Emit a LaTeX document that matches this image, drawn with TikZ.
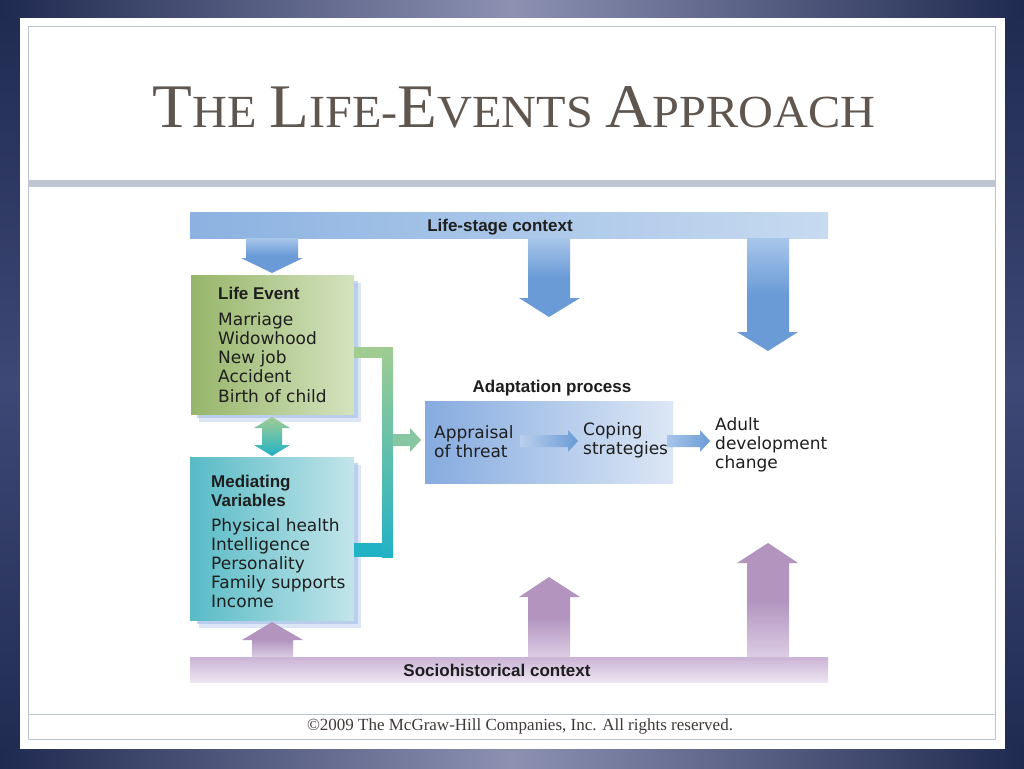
\documentclass[tikz,border=0pt]{standalone}
\usepackage{fontspec}
\usepackage{graphicx}
\setmainfont{Liberation Serif}
\newfontfamily\diagfont{DejaVu Sans}
\newfontfamily\labfont{Liberation Sans}
\definecolor{bgdark}{HTML}{1F2A50}
\definecolor{bglight}{HTML}{8C91B2}
\definecolor{bgmid}{HTML}{3E4876}
\definecolor{framec}{HTML}{B9C6CE}
\definecolor{bandc}{HTML}{BFC4D1}
\definecolor{titlec}{HTML}{5F5650}
\definecolor{footc}{HTML}{3F3A38}
\definecolor{barblueL}{HTML}{8CB2E1}
\definecolor{barblueR}{HTML}{C7DAF0}
\definecolor{arrblue}{HTML}{6A9BD6}
\definecolor{arrblueL}{HTML}{A8C6EA}
\definecolor{greenL}{HTML}{97B56A}
\definecolor{greenR}{HTML}{D4E3BF}
\definecolor{tealL}{HTML}{58BBC6}
\definecolor{tealR}{HTML}{C3E5EA}
\definecolor{shadowc}{HTML}{9DB9E6}
\definecolor{conngreen}{HTML}{A0CC92}
\definecolor{connteal}{HTML}{22B2C6}
\definecolor{arrgreen}{HTML}{86C6A2}
\definecolor{adaptL}{HTML}{86ABDF}
\definecolor{adaptR}{HTML}{DCE7F5}
\definecolor{purT}{HTML}{CBB3D5}
\definecolor{purB}{HTML}{EDE5F2}
\definecolor{arrpur}{HTML}{B294BE}
\definecolor{arrpurL}{HTML}{DCCDE4}
\definecolor{textc}{HTML}{1E1E1E}
\newcommand\tbig[1]{{\fontsize{62}{62}\selectfont #1}}
\newcommand\tsml[1]{{\fontsize{46}{46}\selectfont #1}}
\tikzset{
  itemtxt/.style={anchor=base west, inner sep=0pt, text=textc, font=\diagfont\fontsize{17}{19}\selectfont},
  headtxt/.style={anchor=base west, inner sep=0pt, text=textc, font=\labfont\bfseries\fontsize{17}{19}\selectfont},
  boxnode/.style={anchor=north west, inner sep=0pt, draw=none},
}
\begin{document}
\begin{tikzpicture}[x=1pt,y=-1pt]
\useasboundingbox (0,0) rectangle (1024,768);
% background
\fill[bgdark] (0,0) rectangle (1024,768);
\shade[top color=bgdark, bottom color=bgdark, middle color=bgmid] (0,0) rectangle (24,768);
\shade[top color=bgdark, bottom color=bgdark, middle color=bgmid] (1000,0) rectangle (1024,768);
\shade[left color=bgdark, right color=bgdark, middle color=bglight] (0,0) rectangle (1024,20);
\shade[left color=bgdark, right color=bgdark, middle color=bglight] (0,746) rectangle (1024,768);
% slide
\fill[white] (20,18) rectangle (1005,749);
\draw[framec, line width=1pt] (28.5,26.5) rectangle (995.5,739.5);
\draw[framec, line width=1pt] (28.5,714) -- (995.5,714);
\fill[bandc] (29,180) rectangle (995,187);
% title
\node[anchor=base, inner sep=0pt, text=titlec] (title) at (514,127)
  {\scalebox{1.05}[1]{\tbig{T}\tsml{HE}\hspace{12pt}\tbig{L}\tsml{IFE-}\tbig{E}\tsml{VENTS}\hspace{12pt}\tbig{A}\tsml{PPROACH}}};
% footer
\node[anchor=base, inner sep=0pt, text=footc, font=\fontsize{17}{17}\selectfont] (foot) at (520,730)
  {©2009 The McGraw-Hill Companies, Inc. All rights reserved.};

% ---- top bar
\node[boxnode, minimum width=638pt, minimum height=26pt, left color=barblueL, right color=barblueR] (top) at (190,212) {};
\node[headtxt, anchor=base] (toplab) at (500,231) {Life-stage context};
% down arrows
\shade[top color=arrblueL, bottom color=arrblue, middle color=arrblue]
  (246,238) -- (298,238) -- (298,258) -- (303,258) -- (272,273) -- (241,258) -- (246,258) -- cycle;
\shade[top color=arrblueL, bottom color=arrblue, middle color=arrblue]
  (528,238) -- (570,238) -- (570,298) -- (580,298) -- (549,317) -- (519,298) -- (528,298) -- cycle;
\shade[top color=arrblueL, bottom color=arrblue, middle color=arrblue]
  (747,238) -- (789,238) -- (789,332) -- (798,332) -- (768,351) -- (737,332) -- (747,332) -- cycle;

% ---- Life event box
\fill[shadowc, opacity=0.35] (199,283) rectangle (361,422);
\fill[shadowc, opacity=0.55] (197,281) rectangle (358,418);
\node[boxnode, minimum width=163pt, minimum height=139pt, left color=greenL, right color=greenR] (le) at (191,275) {};
\node[headtxt] (lehead) at (218,299) {Life Event};
\node[itemtxt] (le1) at (218,325) {Marriage};
\node[itemtxt] (le2) at (218,344.3) {Widowhood};
\node[itemtxt] (le3) at (218,363.6) {New job};
\node[itemtxt] (le4) at (218,382.9) {Accident};
\node[itemtxt] (le5) at (218,402.2) {Birth of child};

% ---- Mediating box
\fill[shadowc, opacity=0.35] (199,465) rectangle (361,628);
\fill[shadowc, opacity=0.55] (197,463) rectangle (358,624);
\node[boxnode, minimum width=164pt, minimum height=163pt, left color=tealL, right color=tealR] (mv) at (190,457) {};
\node[headtxt] (mvhead1) at (211,487) {Mediating};
\node[headtxt] (mvhead2) at (211,506) {Variables};
\node[itemtxt] (mv1) at (211,531) {Physical health};
\node[itemtxt] (mv2) at (211,550.2) {Intelligence};
\node[itemtxt] (mv3) at (211,569.4) {Personality};
\node[itemtxt] (mv4) at (211,588.6) {Family supports};
\node[itemtxt] (mv5) at (211,607.8) {Income};

% double arrow between boxes
\shade[top color=conngreen, bottom color=connteal]
  (272,417) -- (290,428) -- (282,428) -- (282,445) -- (290,445) -- (272,456)
  -- (254,445) -- (262,445) -- (262,428) -- (254,428) -- cycle;

% connector bars
\fill[conngreen] (le.east |- 0,347) rectangle (393,358);
\fill[connteal] (mv.east |- 0,543) rectangle (393,557);
\shade[top color=conngreen, bottom color=connteal] (382,347) rectangle (393,557);
\coordinate (jn) at (393,440);
% arrow to adaptation
\fill[arrgreen] (jn) ++(0,-6) -- (410,434) -- (410,428) -- (421,440) -- (410,452) -- (410,446) -- (393,446) -- cycle;

% ---- adaptation
\node[headtxt, anchor=base] (adlab) at (552,392) {Adaptation process};
\node[boxnode, minimum width=248pt, minimum height=82pt, left color=adaptL, right color=adaptR] (ad) at (425,401) {};
\node[itemtxt] (ap1) at (434,438) {Appraisal};
\node[itemtxt] (ap2) at (434,457) {of threat};
\node[itemtxt] (cp1) at (583,435) {Coping};
\node[itemtxt] (cp2) at (583,454) {strategies};
\node[itemtxt] (ch1) at (715,430) {Adult};
\node[itemtxt] (ch2) at (715,449) {development};
\node[itemtxt] (ch3) at (715,468) {change};
\shade[left color=adaptR!60!adaptL, right color=arrblue]
  (520,435) -- (568,435) -- (568,430) -- (578,441) -- (568,452) -- (568,447) -- (520,447) -- cycle;
\shade[left color=arrblueL, right color=arrblue]
  (667,435) -- (700,435) -- (700,430) -- (710,441) -- (700,452) -- (700,447) -- (667,447) -- cycle;

% ---- bottom bar
\node[boxnode, minimum width=638pt, minimum height=25pt, top color=purT, bottom color=purB] (bot) at (190,657) {};
\node[headtxt, anchor=base] (botlab) at (497,676) {Sociohistorical context};
% up arrows
\shade[top color=arrpur, bottom color=arrpurL, middle color=arrpur]
  (252,657) -- (252,640) -- (242,640) -- (272,622) -- (303,640) -- (293,640) -- (293,657) -- cycle;
\shade[top color=arrpur, bottom color=arrpurL, middle color=arrpur]
  (528,657) -- (528,597) -- (519,597) -- (549,577) -- (580,597) -- (570,597) -- (570,657) -- cycle;
\shade[top color=arrpur, bottom color=arrpurL, middle color=arrpur]
  (747,657) -- (747,563) -- (737,563) -- (768,543) -- (798,563) -- (789,563) -- (789,657) -- cycle;
\end{tikzpicture}
\end{document}
